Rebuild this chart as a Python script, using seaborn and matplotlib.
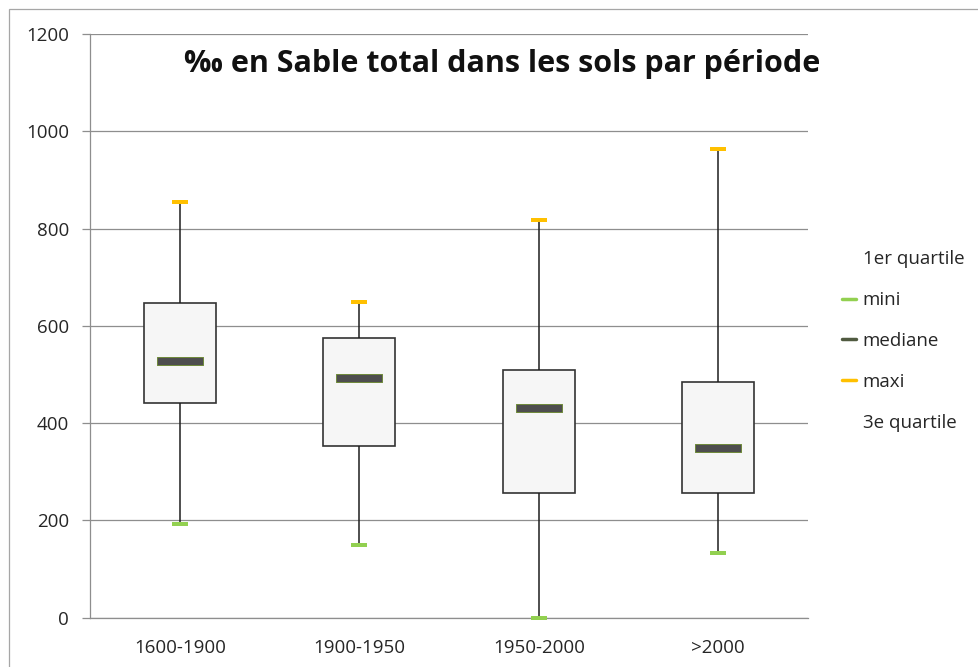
import matplotlib
matplotlib.use("Agg")
import matplotlib.pyplot as plt
from matplotlib.lines import Line2D
from matplotlib.patches import Rectangle
from matplotlib.path import Path
import numpy as np
import pandas as pd
import seaborn as sns

# values (per mille of sand)
categories = ["1600-1900", "1900-1950", "1950-2000", ">2000"]
mini = [193, 150, 0, 132]
q1 = [442, 352, 256, 256]
mediane = [528, 492, 431, 348]
q3 = [648, 574, 509, 484]
maxi = [854, 650, 818, 964]
y_ticks = [0, 200, 400, 600, 800, 1000, 1200]
legend_labels = ["1er quartile", "mini", "mediane", "maxi", "3e quartile"]

# five points per period -> quartiles of these are exactly q1 / median / q3
rows = []
for i, cat in enumerate(categories):
    for v in (mini[i], q1[i], mediane[i], q3[i], maxi[i]):
        rows.append({"periode": cat, "valeur": v})
df = pd.DataFrame(rows)

sns.set_style("white")
plt.rcParams["font.family"] = ["Open Sans", "DejaVu Sans"]

GRID = "#8e8e8e"
TXT = "#262626"
GREEN = "#92d050"
ORANGE = "#ffc000"
MED_FILL = "#4e4e4e"
MED_EDGE = "#6f8a3a"
MED_LEG = "#505a40"


def bar_marker(ratio):
    # flat rectangle marker, width 1, height ratio
    h = ratio / 2
    return Path([(-0.5, -h), (0.5, -h), (0.5, h), (-0.5, h), (-0.5, -h)],
                [Path.MOVETO, Path.LINETO, Path.LINETO, Path.LINETO, Path.CLOSEPOLY])


fig = plt.figure(figsize=(9.79, 6.67), dpi=100)
ax = fig.add_axes([90 / 979, 49.3 / 667, 718 / 979, 583.7 / 667])

sns.boxplot(data=df, x="periode", y="valeur", order=categories, ax=ax,
            whis=(0, 100), width=0.4, color="#f6f6f6", linecolor="#333333",
            linewidth=1.2, showcaps=False, showfliers=False,
            medianprops={"visible": False},
            whiskerprops={"color": "#1e1e1e", "linewidth": 1.1})

sns.stripplot(x=categories, y=mediane, order=categories, ax=ax, jitter=False,
              marker=bar_marker(8 / 46), size=33, color=MED_FILL,
              edgecolor=MED_EDGE, linewidth=0.7, zorder=4, legend=False)
sns.stripplot(x=categories, y=mini, order=categories, ax=ax, jitter=False,
              marker=bar_marker(3.5 / 16), size=11.5, color=GREEN,
              linewidth=0, zorder=4, legend=False, clip_on=False)
sns.stripplot(x=categories, y=maxi, order=categories, ax=ax, jitter=False,
              marker=bar_marker(3.5 / 16), size=11.5, color=ORANGE,
              linewidth=0, zorder=4, legend=False)

ax.set_ylim(0, 1200)
ax.set_xlim(-0.5, len(categories) - 0.5)
ax.set_yticks(y_ticks)
ax.set_yticklabels([str(t) for t in y_ticks])
ax.set_xlabel("")
ax.set_ylabel("")
ax.yaxis.grid(True, color=GRID, linewidth=0.9)
ax.set_axisbelow(True)

for side in ("top", "right"):
    ax.spines[side].set_visible(False)
for side in ("left", "bottom"):
    ax.spines[side].set_color(GRID)
    ax.spines[side].set_linewidth(0.9)

ax.set_xticks(np.arange(-0.5, len(categories)), minor=True)
ax.tick_params(axis="x", which="major", length=0, pad=15, labelsize=13.5, labelcolor=TXT)
ax.tick_params(axis="x", which="minor", length=6, width=0.9, color=GRID, direction="out")
ax.tick_params(axis="y", length=6, width=0.9, color=GRID, pad=9, labelsize=13.5,
               labelcolor=TXT, left=True)

fig.text(502 / 979, 595 / 667, "\u2030 en Sable total dans les sols par p\u00e9riode",
         ha="center", va="baseline", fontsize=22, fontweight="bold", color="#111111")

handles = [
    Line2D([], [], color="none"),
    Line2D([], [], color=GREEN, linewidth=2.5),
    Line2D([], [], color=MED_LEG, linewidth=2.5),
    Line2D([], [], color=ORANGE, linewidth=2.5),
    Line2D([], [], color="none"),
]
fig.legend(handles, legend_labels, loc="center left",
           bbox_to_anchor=(842 / 979, 326 / 667), bbox_transform=fig.transFigure,
           frameon=False, fontsize=13.5, handlelength=0.75, handletextpad=0.35,
           labelspacing=1.22, borderpad=0, borderaxespad=0, labelcolor=TXT)

fig.patches.append(Rectangle((9 / 979, -0.05), 1.2, (658 / 667) + 0.05,
                             transform=fig.transFigure, fill=False,
                             edgecolor="#a6a6a6", linewidth=0.9))

fig.savefig("out.png", dpi=100)
